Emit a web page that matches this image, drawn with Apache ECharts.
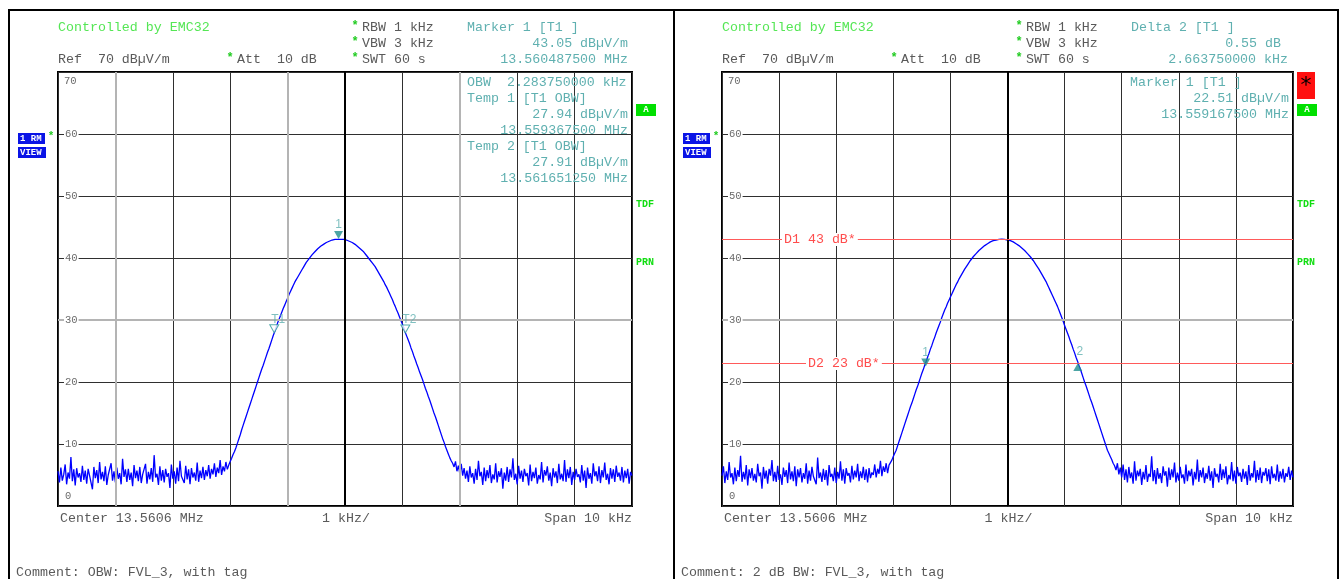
<!DOCTYPE html>
<html><head><meta charset="utf-8">
<script src="https://cdn.jsdelivr.net/npm/echarts@6/dist/echarts.min.js"></script>
<style>html,body{margin:0;padding:0;background:#fff}#c{width:1343px;height:579px}</style>
</head><body><div id="c"></div>
<script>
// sweep grid (kHz offset from centre 13.5606 MHz), 401 points over 10 kHz span
const sweepStartKHz = -5;
const sweepStepKHz = 0.025;

const leftNoiseLow = [
5.6,3.8,6.2,4.1,5.1,6.7,3.5,5.4,4.4,7.9,4.0,5.9,3.3,6.1,4.6,5.3,3.9,6.5,4.2,5.7,
3.6,6.0,4.9,5.2,2.7,6.3,4.5,5.8,3.7,7.1,4.3,5.5,4.0,6.4,3.4,5.0,4.8,6.9,4.1,5.6,
3.8,6.2,4.4,5.3,3.5,7.6,4.7,5.9,3.9,6.0,4.2,5.4,3.2,6.6,4.5,5.7,4.0,6.3,3.7,5.1,
4.9,6.8,3.6,5.5,4.3,6.1,3.9,8.2,4.6,5.2,3.4,6.4,4.1,5.8,3.8,6.0,4.7,5.3,2.9,6.7,
4.4,5.6,3.6,6.2,4.0,7.3,4.8,5.1,3.7,6.5,4.3,5.9,3.5,6.1,4.6,5.4,4.1,7.0,3.9,5.7,
4.5,6.3,4.2,5.8,4.8,6.6,4.4,6.0,5.1,6.9,4.7,6.2,5.3,7.4,5.0,6.4,5.6,7.1,5.9,6.6];
const leftSignal = [
7.2,7.7,8.3,8.8,9.4,10.1,10.8,11.5,12.3,13.0,13.7,14.4,15.1,15.8,16.5,17.2,17.9,18.6,19.3,20.0,
20.7,21.4,22.1,22.7,23.4,24.1,24.8,25.4,26.1,26.8,27.5,28.1,28.8,29.5,30.1,30.7,31.3,31.9,32.4,33.0,
33.5,34.1,34.6,35.1,35.6,36.1,36.5,36.9,37.3,37.7,38.1,38.5,38.9,39.3,39.6,39.9,40.2,40.5,40.7,41.0,
41.2,41.5,41.7,41.9,42.0,42.2,42.4,42.5,42.6,42.7,42.8,42.9,43.0,43.0,43.0,43.0,43.05,43.0,43.0,43.0,
42.9,42.9,42.8,42.7,42.6,42.5,42.3,42.2,42.0,41.8,41.6,41.4,41.2,41.0,40.7,40.4,40.1,39.8,39.5,39.2,
38.9,38.6,38.2,37.8,37.4,37.0,36.6,36.2,35.7,35.3,34.8,34.3,33.8,33.3,32.7,32.2,31.6,31.1,30.5,29.9,
29.3,28.7,28.0,27.4,26.8,26.2,25.5,24.9,24.2,23.6,22.9,22.3,21.6,21.0,20.4,19.7,19.0,18.4,17.7,17.1,
16.4,15.7,15.0,14.4,13.7,13.0,12.3,11.6,10.9,10.3,9.6,9.0,8.4,7.8,7.3];
const leftNoiseHigh = [
6.9,6.3,7.2,5.6,6.5,5.2,6.8,4.9,6.1,4.4,5.7,3.9,6.4,4.6,5.3,3.6,6.0,4.2,7.3,4.8,
5.5,3.4,6.2,4.0,5.8,4.5,6.6,3.7,5.1,4.3,6.9,3.8,5.6,4.7,6.1,2.8,5.4,4.1,6.3,3.9,
5.9,4.6,7.7,4.2,5.2,3.5,6.5,4.4,5.7,3.9,6.0,4.8,5.3,3.3,6.7,4.0,5.5,4.5,6.2,3.6,
5.0,4.3,7.1,3.8,5.8,4.9,6.4,4.1,5.4,3.2,6.1,4.6,5.6,3.7,6.8,4.3,5.2,4.0,7.4,3.9,
5.9,4.5,6.3,3.4,5.5,4.2,6.0,4.7,5.1,3.8,6.6,4.1,5.7,2.9,6.2,4.4,5.3,3.6,6.9,4.8,
5.6,4.0,6.4,3.7,5.8,4.6,7.0,4.2,5.2,3.5,6.1,4.4,5.9,3.9,6.5,4.7,5.4,4.1,6.3,3.8,
5.7,4.5,6.0,3.6,5.5,4.9];

const rightNoiseLow = [
4.9,6.4,3.7,5.6,4.2,7.1,4.6,5.3,3.5,6.2,4.0,5.8,4.7,8.1,3.9,5.5,4.3,6.6,3.3,5.9,
4.5,6.1,4.1,5.2,3.8,6.8,4.8,5.4,2.8,6.3,4.4,5.7,3.6,6.0,4.9,7.4,4.0,5.5,3.9,6.5,
4.2,5.1,3.4,6.2,4.7,5.8,3.7,7.0,4.3,5.6,4.0,6.4,3.2,5.9,4.6,6.1,3.8,5.3,4.4,6.9,
3.6,5.7,4.1,6.3,4.8,5.0,3.5,7.8,4.5,5.4,3.9,6.0,4.2,5.8,3.3,6.6,4.7,5.2,4.0,6.2,
3.7,5.5,4.4,7.2,4.1,5.9,3.6,6.1,4.9,5.3,3.8,6.5,4.3,5.7,4.6,6.8,4.0,5.6,4.5,6.3,
4.2,5.9,3.8,6.1,4.5,5.4,5.0,6.7,4.6,6.0,5.2,7.3,4.8,6.4,5.5,6.9,5.3,6.6];
const rightSignal = [
6.8,7.4,8.0,8.5,9.0,9.7,10.4,11.1,11.8,12.5,13.2,13.9,14.6,15.3,16.0,16.6,17.3,18.0,18.7,19.3,
20.0,20.7,21.4,22.0,22.7,23.3,24.0,24.6,25.3,25.9,26.6,27.2,27.9,28.5,29.1,29.7,30.4,31.0,31.6,32.1,
32.7,33.2,33.7,34.2,34.7,35.2,35.7,36.1,36.6,37.0,37.4,37.8,38.2,38.5,38.9,39.2,39.6,39.9,40.2,40.5,
40.7,41.0,41.2,41.4,41.6,41.8,42.0,42.2,42.3,42.5,42.6,42.7,42.8,42.9,42.9,43.0,43.0,43.0,43.05,43.0,
43.0,43.0,42.9,42.9,42.8,42.7,42.6,42.5,42.3,42.2,42.0,41.8,41.6,41.4,41.2,41.0,40.7,40.5,40.2,39.9,
39.6,39.3,38.9,38.6,38.2,37.8,37.4,37.0,36.6,36.2,35.7,35.2,34.7,34.2,33.7,33.2,32.7,32.2,31.6,31.0,
30.4,29.8,29.1,28.5,27.9,27.3,26.6,26.0,25.3,24.7,24.0,23.4,22.7,22.1,21.4,20.7,20.0,19.4,18.7,18.0,
17.3,16.7,16.0,15.3,14.6,13.9,13.2,12.5,11.8,11.1,10.4,9.7,9.0,8.5,8.0,7.5,6.9];
const rightNoiseHigh = [
6.5,5.8,6.9,5.1,6.2,4.6,6.7,4.2,5.9,3.8,6.3,4.5,5.4,3.6,7.2,4.1,5.7,4.8,6.0,3.4,
5.5,4.3,6.6,3.9,5.2,4.7,8.0,4.0,5.8,3.5,6.1,4.4,5.3,3.7,6.4,4.9,5.6,3.1,6.2,4.2,
5.9,4.6,7.0,3.8,5.4,4.1,6.3,4.5,5.1,3.6,6.7,4.0,5.7,4.8,6.0,3.3,5.5,4.3,7.5,3.9,
5.8,4.6,6.2,3.7,5.3,4.4,6.5,4.1,5.6,2.9,6.1,4.7,5.2,3.8,6.8,4.2,5.9,4.5,6.4,3.5,
5.0,4.3,7.1,4.0,5.7,3.6,6.3,4.8,5.4,3.9,6.0,4.4,5.6,3.4,6.6,4.1,5.3,4.6,7.3,3.8,
5.8,4.2,6.2,3.7,5.5,4.9,6.1,4.0,5.9,3.5,6.4,4.5,5.2,4.1,6.7,3.9,
5.6,4.4,6.0,3.8,5.3,4.7,6.3,4.2,5.7,4.6];

const leftTraceLevels = leftNoiseLow.concat(leftSignal, leftNoiseHigh);
const rightTraceLevels = rightNoiseLow.concat(rightSignal, rightNoiseHigh);

const yTickValues = [0,10,20,30,40,50,60,70];
const yTickLabels = ['0','10','20','30','40','50','60','70'];
const xMinKHz = -5, xMaxKHz = 5, xStepKHz = 1;

const leftGrayFreqs = [-4,-1,2];
const grayLevels = [30];
const centreFreqs = [0];

const leftMarkerNames = ['1','T1','T2'];
const leftMarkerFreqs = [-0.1125,-1.2325,1.05125];
const leftMarkerLevels = [43.05,27.94,27.91];

const rightMarkerNames = ['1','2'];
const rightMarkerFreqs = [-1.4325,1.23125];
const rightMarkerLevels = [22.51,23.06];

const rightLineNames = ['D1 43 dB*','D2 23 dB*'];
const rightLineLevels = [43,23];

// ---------------------------------------------------------------
const MONO = '"Liberation Mono", "DejaVu Sans Mono", monospace';
const F13 = '13.3px ' + MONO;
const GRAY = '#5a5a5a', TEAL = '#5fb0b0', GREEN = '#55e655', STAR = '#22cc22', RED = '#ff4d4d';
const MK = '#1f8f8f';

const gridsPx = [
  {left:58, top:72, width:574, height:434},
  {left:722, top:72, width:571, height:434}
];

function toPairs(levels){ return levels.map((v,i)=>[+(sweepStartKHz + i*sweepStepKHz).toFixed(3), v]); }

const DOWN = 'path://M0,0L10,0L5,8Z';
function markerItems(names, freqs, levels, kinds){
  return names.map((n,i)=>{
    const k = kinds[i];
    const item = {value:[freqs[i], levels[i]], name:n};
    if (k === 'up') { item.symbol = 'triangle'; item.symbolOffset = [0,4]; }
    else { item.symbol = DOWN; item.symbolOffset = [0,-4]; }
    item.itemStyle = k === 'hollow' ? {color:'#fff', borderColor:'#2b9a9a', borderWidth:1} : {color:MK};
    item.label = {show:true, position:'top', formatter:n, color:TEAL, font:'12px ' + MONO,
      distance: k === 'up' ? 5 : 0, offset: k === 'hollow' ? [4,1] : (k==='up'?[2,0]:[0,0])};
    return item;
  });
}

const hidden = {data:[[xMinKHz,-20],[xMaxKHz,-20]], symbol:'none', lineStyle:{width:0}, silent:true};
const series = [];
[leftTraceLevels, rightTraceLevels].forEach((lv,g)=>{
  const grayMl = [];
  (g===0 ? leftGrayFreqs : []).forEach(f=>grayMl.push({xAxis:f}));
  grayLevels.forEach(l=>grayMl.push({yAxis:l}));
  series.push(Object.assign({type:'line', xAxisIndex:g, yAxisIndex:g, z:1,
    markLine:{silent:true, symbol:['none','none'], label:{show:false}, animation:false,
      lineStyle:{color:'#b4b4b4', width:2, type:'solid'}, data:grayMl}}, hidden));
  series.push(Object.assign({type:'line', xAxisIndex:g, yAxisIndex:g, z:1,
    markLine:{silent:true, symbol:['none','none'], label:{show:false}, animation:false,
      lineStyle:{color:'#000', width:2, type:'solid'}, data:centreFreqs.map(f=>({xAxis:f}))}}, hidden));
  if (g===1) series.push(Object.assign({type:'line', xAxisIndex:g, yAxisIndex:g, z:2,
    markLine:{silent:true, symbol:['none','none'], label:{show:false}, animation:false,
      lineStyle:{color:'#ff5a5a', width:1, type:'solid'}, data:rightLineLevels.map(l=>({yAxis:l}))}}, hidden));
  series.push({type:'line', xAxisIndex:g, yAxisIndex:g, data:toPairs(lv), symbol:'none', showSymbol:false,
    lineStyle:{color:'#0000ff', width:1.3}, z:3, silent:true});
});
series.push({type:'scatter', xAxisIndex:0, yAxisIndex:0, symbolSize:[9,8], z:5, silent:true,
  data: markerItems(leftMarkerNames, leftMarkerFreqs, leftMarkerLevels, ['down','hollow','hollow'])});
series.push({type:'scatter', xAxisIndex:1, yAxisIndex:1, symbolSize:[9,8], z:5, silent:true,
  data: markerItems(rightMarkerNames, rightMarkerFreqs, rightMarkerLevels, ['down','up'])});

const axisCommon = {axisLine:{show:false}, axisTick:{show:false}, axisLabel:{show:false},
  splitLine:{show:true, lineStyle:{color:'#2f2f2f', width:1}}};

const chart = echarts.init(document.getElementById('c'), null, {renderer:'canvas'});
chart.setOption({
  animation:false,
  backgroundColor:'#fff',
  grid: gridsPx.map(g=>Object.assign({show:true, borderColor:'#000', borderWidth:2, backgroundColor:'#fff'}, g)),
  xAxis: [0,1].map(g=>Object.assign({type:'value', gridIndex:g, min:xMinKHz, max:xMaxKHz, interval:xStepKHz}, axisCommon)),
  yAxis: [0,1].map(g=>Object.assign({type:'value', gridIndex:g, min:yTickValues[0], max:yTickValues[yTickValues.length-1], interval:10}, axisCommon)),
  series: series
});

// ---------------- text overlay ----------------
function T(x, y, text, color, o){
  o = o || {};
  const al = o.align || 'left';
  const st = {text:text, fill:color, font:o.font || F13, textAlign:al, align:al,
    textVerticalAlign:'middle', verticalAlign:'middle'};
  if (o.bg) { st.backgroundColor = o.bg; st.padding = o.padding || [0,2]; }
  return {type:'text', x:x, y:y, z:100, silent:true, style:st};
}
function R(x, y, w, h, fill, stroke, lw){
  return {type:'rect', z:99, silent:true, shape:{x:x, y:y, width:w, height:h},
    style:{fill:fill, stroke:stroke || null, lineWidth:lw || 0}};
}
const els = [];
els.push(R(9,10,665,600,'none','#000',2));
els.push(R(674,10,664,600,'none','#000',2));

const headerTitle = ['Marker 1 [T1 ]','Delta 2 [T1 ]'];
const comments = ['Comment: OBW: FVL_3, with tag','Comment: 2 dB BW: FVL_3, with tag'];
[0,1].forEach(g=>{
  const L = gridsPx[g].left, Rt = L + gridsPx[g].width, mid = L + gridsPx[g].width/2;
  els.push(T(L, 27, 'Controlled by EMC32', GREEN));
  els.push(T(L, 59, 'Ref  70 dBµV/m', GRAY));
  els.push(T(L+172, 58, '*', STAR, {font:'bold 12px ' + MONO, align:'center'}));
  els.push(T(L+179, 59, 'Att  10 dB', GRAY));
  ['RBW 1 kHz','VBW 3 kHz','SWT 60 s'].forEach((s,k)=>{
    els.push(T(L+297, 26+16*k, '*', STAR, {font:'bold 12px ' + MONO, align:'center'}));
    els.push(T(L+304, 27+16*k, s, GRAY));
  });
  els.push(T(L+409, 27, headerTitle[g], TEAL));
  els.push(T(L+2, 518, 'Center 13.5606 MHz', GRAY));
  els.push(T(mid+1, 518, '1 kHz/', GRAY, {align:'center'}));
  els.push(T(Rt, 518, 'Span 10 kHz', GRAY, {align:'right'}));
  els.push(T(g===0?16:681, 572, comments[g], GRAY));
  const bx = g===0 ? 18 : 683;
  els.push(R(bx,133,27,11,'#0a14e6'));
  els.push(T(bx+2,138.5,'1 RM','#fff',{font:'bold 9px ' + MONO}));
  els.push(R(bx,147,28,11,'#0a14e6'));
  els.push(T(bx+2,152.5,'VIEW','#fff',{font:'bold 9px ' + MONO}));
  els.push(T(bx+33,136,'*',STAR,{font:'bold 11px ' + MONO, align:'center'}));
  els.push(R(Rt+4,104,20,12,'#00e000'));
  els.push(T(Rt+14,110,'A','#fff',{font:'bold 9px ' + MONO, align:'center'}));
  els.push(T(Rt+4,204.5,'TDF','#11dd11',{font:'bold 10px ' + MONO}));
  els.push(T(Rt+4,262.5,'PRN','#11dd11',{font:'bold 10px ' + MONO}));
  yTickValues.forEach((v,k)=>{
    const p = chart.convertToPixel({gridIndex:g}, [xMinKHz, v]);
    let y = p[1];
    if (k === yTickValues.length-1) y += 9;
    else if (k === 0) y -= 10;
    const ox = (k === 0) ? 7 : 6;
    els.push(T(L+ox, y, yTickLabels[k], '#6a6a6a', {font:'10.5px ' + MONO, bg:(k>0 && k<yTickValues.length-1)?'#fff':null, padding:[0,1]}));
  });
});
els.push(T(628, 43, '43.05 dBµV/m', TEAL, {align:'right'}));
els.push(T(628, 59, '13.560487500 MHz', TEAL, {align:'right'}));
els.push(T(467, 82, 'OBW  2.283750000 kHz', TEAL));
els.push(T(467, 98, 'Temp 1 [T1 OBW]', TEAL));
els.push(T(628, 114, '27.94 dBµV/m', TEAL, {align:'right'}));
els.push(T(628, 130, '13.559367500 MHz', TEAL, {align:'right'}));
els.push(T(467, 146, 'Temp 2 [T1 OBW]', TEAL));
els.push(T(628, 162, '27.91 dBµV/m', TEAL, {align:'right'}));
els.push(T(628, 178, '13.561651250 MHz', TEAL, {align:'right'}));
els.push(T(1281, 43, '0.55 dB', TEAL, {align:'right'}));
els.push(T(1288, 59, '2.663750000 kHz', TEAL, {align:'right'}));
els.push(T(1130, 82, 'Marker 1 [T1 ]', TEAL));
els.push(T(1289, 98, '22.51 dBµV/m', TEAL, {align:'right'}));
els.push(T(1289, 114, '13.559167500 MHz', TEAL, {align:'right'}));
els.push(R(1297,72,18,27,'#ff1010'));
els.push(T(1306,86,'*','#000',{font:'22px "DejaVu Sans", sans-serif', align:'center'}));
const lineLabelX = [782, 806];
rightLineNames.forEach((n,k)=>{
  const p = chart.convertToPixel({gridIndex:1}, [xMinKHz, rightLineLevels[k]]);
  els.push(T(lineLabelX[k], p[1], n, RED, {bg:'#fff', padding:[0,2]}));
});
chart.setOption({graphic: els});
</script>
</body></html>
